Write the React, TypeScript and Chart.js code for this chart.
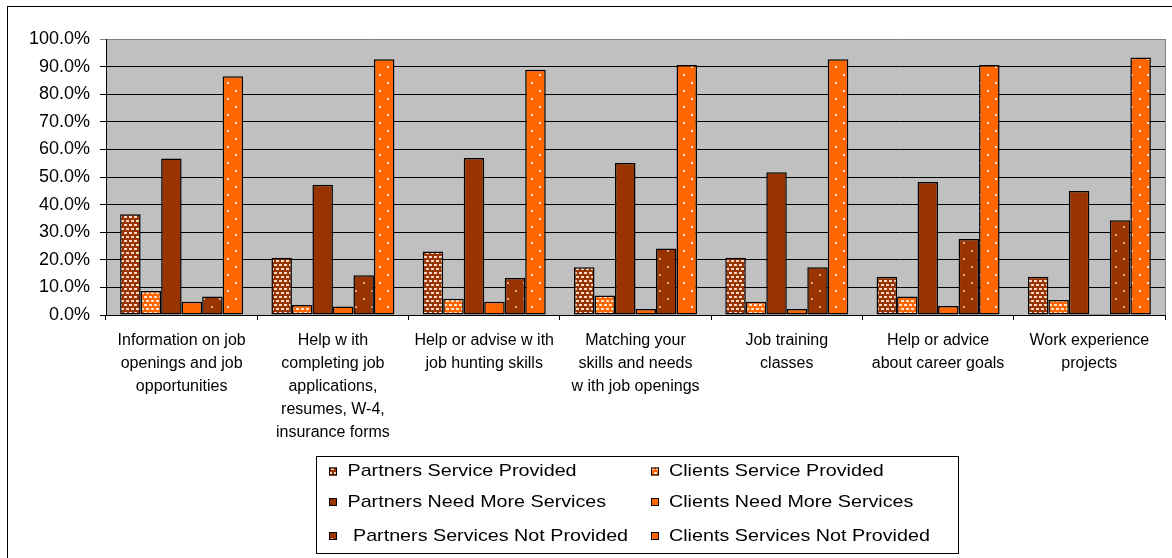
import { useEffect, useRef } from "react";
import { Chart, registerables } from "chart.js";

Chart.register(...registerables);

const FONT = "'Liberation Sans', Arial, Helvetica, sans-serif";

const categories: string[][] = [
  ["Information on job", "openings and job", "opportunities"],
  ["Help w ith", "completing job", "applications,", "resumes, W-4,", "insurance forms"],
  ["Help or advise w ith", "job hunting skills"],
  ["Matching your", "skills and needs", "w ith job openings"],
  ["Job training", "classes"],
  ["Help or advice", "about career goals"],
  ["Work experience", "projects"],
];

const seriesLabels = [
  "Partners Service Provided",
  "Clients Service Provided",
  "Partners Need More Services",
  "Clients Need More Services",
  " Partners Services Not Provided",
  "Clients Services Not Provided",
];

const partnersServiceProvided = [36.5, 20.7, 23.0, 17.3, 20.7, 13.9, 13.9];
const clientsServiceProvided = [8.7, 3.6, 5.9, 7.1, 4.8, 6.7, 5.4];
const partnersNeedMore = [56.7, 47.2, 56.9, 55.1, 51.7, 48.2, 44.9];
const clientsNeedMore = [4.8, 3.1, 4.8, 2.2, 2.2, 3.3, 0.4];
const partnersNotProvided = [6.7, 14.4, 13.4, 24.1, 17.3, 27.5, 34.3];
const clientsNotProvided = [86.5, 92.7, 88.9, 90.6, 92.7, 90.6, 93.3];

const yMin = 0;
const yMax = 100;
const yStep = 10;

const BROWN = "#993300";
const ORANGE = "#FF6600";

function brickPattern(bg: string, fg: string): CanvasPattern | string {
  const c = document.createElement("canvas");
  c.width = 10;
  c.height = 8;
  const g = c.getContext("2d");
  if (!g) return bg;
  g.fillStyle = bg;
  g.fillRect(0, 0, 10, 8);
  g.fillStyle = fg;
  g.fillRect(1, 1, 3, 2);
  g.fillRect(6, 1, 3, 2);
  g.fillRect(3, 5, 3, 2);
  g.fillRect(8, 5, 2, 2);
  g.fillRect(0, 5, 1, 2);
  return g.createPattern(c, "repeat") || bg;
}

function dotPattern(bg: string, fg: string): CanvasPattern | string {
  const c = document.createElement("canvas");
  c.width = 16;
  c.height = 16;
  const g = c.getContext("2d");
  if (!g) return bg;
  g.fillStyle = bg;
  g.fillRect(0, 0, 16, 16);
  g.fillStyle = fg;
  g.fillRect(3, 3, 2, 2);
  g.fillRect(11, 11, 2, 2);
  return g.createPattern(c, "repeat") || bg;
}

const plotBackground = {
  id: "plotBackground",
  beforeDraw(chart: any) {
    const { ctx, chartArea } = chart;
    if (!chartArea) return;
    ctx.save();
    ctx.fillStyle = "#C0C0C0";
    ctx.fillRect(chartArea.left, chartArea.top, chartArea.right - chartArea.left, chartArea.bottom - chartArea.top);
    ctx.restore();
  },
  afterDraw(chart: any) {
    const { ctx, chartArea } = chart;
    ctx.save();
    ctx.strokeStyle = "#808080";
    ctx.lineWidth = 1;
    ctx.beginPath();
    ctx.moveTo(Math.round(chartArea.right) + 0.5, chartArea.top);
    ctx.lineTo(Math.round(chartArea.right) + 0.5, chartArea.bottom);
    ctx.stroke();
    ctx.restore();
  },
};

const boxLegend = {
  id: "boxLegend",
  afterDraw(chart: any) {
    const ctx = chart.ctx;
    ctx.save();
    ctx.strokeStyle = "#000";
    ctx.lineWidth = 1;
    ctx.strokeRect(308.5, 449.5, 642, 97);
    const rowsY = [464.5, 495, 529];
    const swatchX = [321, 643];
    const textX = [339.5, 661];
    const stretch = 1.16;
    ctx.font = `17px ${FONT}`;
    ctx.textBaseline = "middle";
    ctx.textAlign = "left";
    chart.data.datasets.forEach((ds: any, i: number) => {
      const col = i % 2;
      const row = Math.floor(i / 2);
      const y = rowsY[row];
      ctx.fillStyle = ds.backgroundColor;
      ctx.fillRect(swatchX[col], y - 4, 8, 8);
      ctx.strokeStyle = "#000";
      ctx.lineWidth = 1;
      ctx.strokeRect(swatchX[col] + 0.5, y - 3.5, 7, 7);
      ctx.save();
      ctx.translate(textX[col], y);
      ctx.scale(stretch, 1);
      ctx.fillStyle = "#000";
      ctx.fillText(ds.label, 0, 0);
      ctx.restore();
    });
    ctx.restore();
  },
};

export default function App() {
  const canvasRef = useRef<HTMLCanvasElement | null>(null);

  useEffect(() => {
    document.body.style.overflow = "hidden";
    const canvas = canvasRef.current;
    if (!canvas) return;
    const fills = [
      brickPattern(BROWN, "#F5D9C8"),
      brickPattern(ORANGE, "#FFE2C6"),
      BROWN,
      ORANGE,
      dotPattern(BROWN, "#D8A88F"),
      dotPattern(ORANGE, "#FFE0CC"),
    ];
    const values = [
      partnersServiceProvided,
      clientsServiceProvided,
      partnersNeedMore,
      clientsNeedMore,
      partnersNotProvided,
      clientsNotProvided,
    ];
    const chart = new Chart(canvas, {
      type: "bar",
      data: {
        labels: categories,
        datasets: values.map((v, i) => ({
          label: seriesLabels[i],
          data: v,
          backgroundColor: fills[i] as any,
          borderColor: "#000",
          borderWidth: 1.5,
          borderSkipped: false,
          inflateAmount: 0,
          categoryPercentage: 0.813,
          barPercentage: 1,
        })),
      },
      options: {
        animation: false,
        responsive: false,
        events: [],
        layout: { padding: { top: 32, right: 7, left: 0, bottom: 0 } },
        plugins: {
          legend: { display: false },
          tooltip: { enabled: false },
          title: { display: false },
        },
        scales: {
          x: {
            afterFit(scale: any) {
              scale.height = 243;
            },
            grid: {
              display: true,
              drawOnChartArea: false,
              drawTicks: true,
              tickLength: 5,
              color: "#000",
              offset: true,
            },
            border: { display: true, color: "#000", width: 1 },
            ticks: {
              color: "#000",
              font: { family: FONT, size: 16, lineHeight: 1.44 },
              padding: 9,
              maxRotation: 0,
              autoSkip: false,
            },
          },
          y: {
            min: yMin,
            max: yMax,
            afterFit(scale: any) {
              scale.width = 98;
            },
            grid: {
              color: (ctx: any) => (ctx.tick && ctx.tick.value === yMax ? "#808080" : "#000"),
              tickLength: 6,
              drawTicks: true,
            },
            border: { display: true, color: "#000", width: 1 },
            ticks: {
              stepSize: yStep,
              color: "#000",
              font: { family: FONT, size: 18 },
              padding: 10,
              callback: (v: any) => Number(v).toFixed(1) + "%",
            },
          },
        },
      },
      plugins: [plotBackground, boxLegend],
    });
    return () => chart.destroy();
  }, []);

  return (
    <div
      style={{
        position: "absolute",
        left: 7,
        top: 6,
        width: 1164,
        height: 551,
        borderTop: "1px solid #000",
        borderLeft: "1px solid #000",
        background: "#fff",
      }}
    >
      <canvas ref={canvasRef} width={1164} height={551} style={{ display: "block", width: 1164, height: 551 }} />
    </div>
  );
}
